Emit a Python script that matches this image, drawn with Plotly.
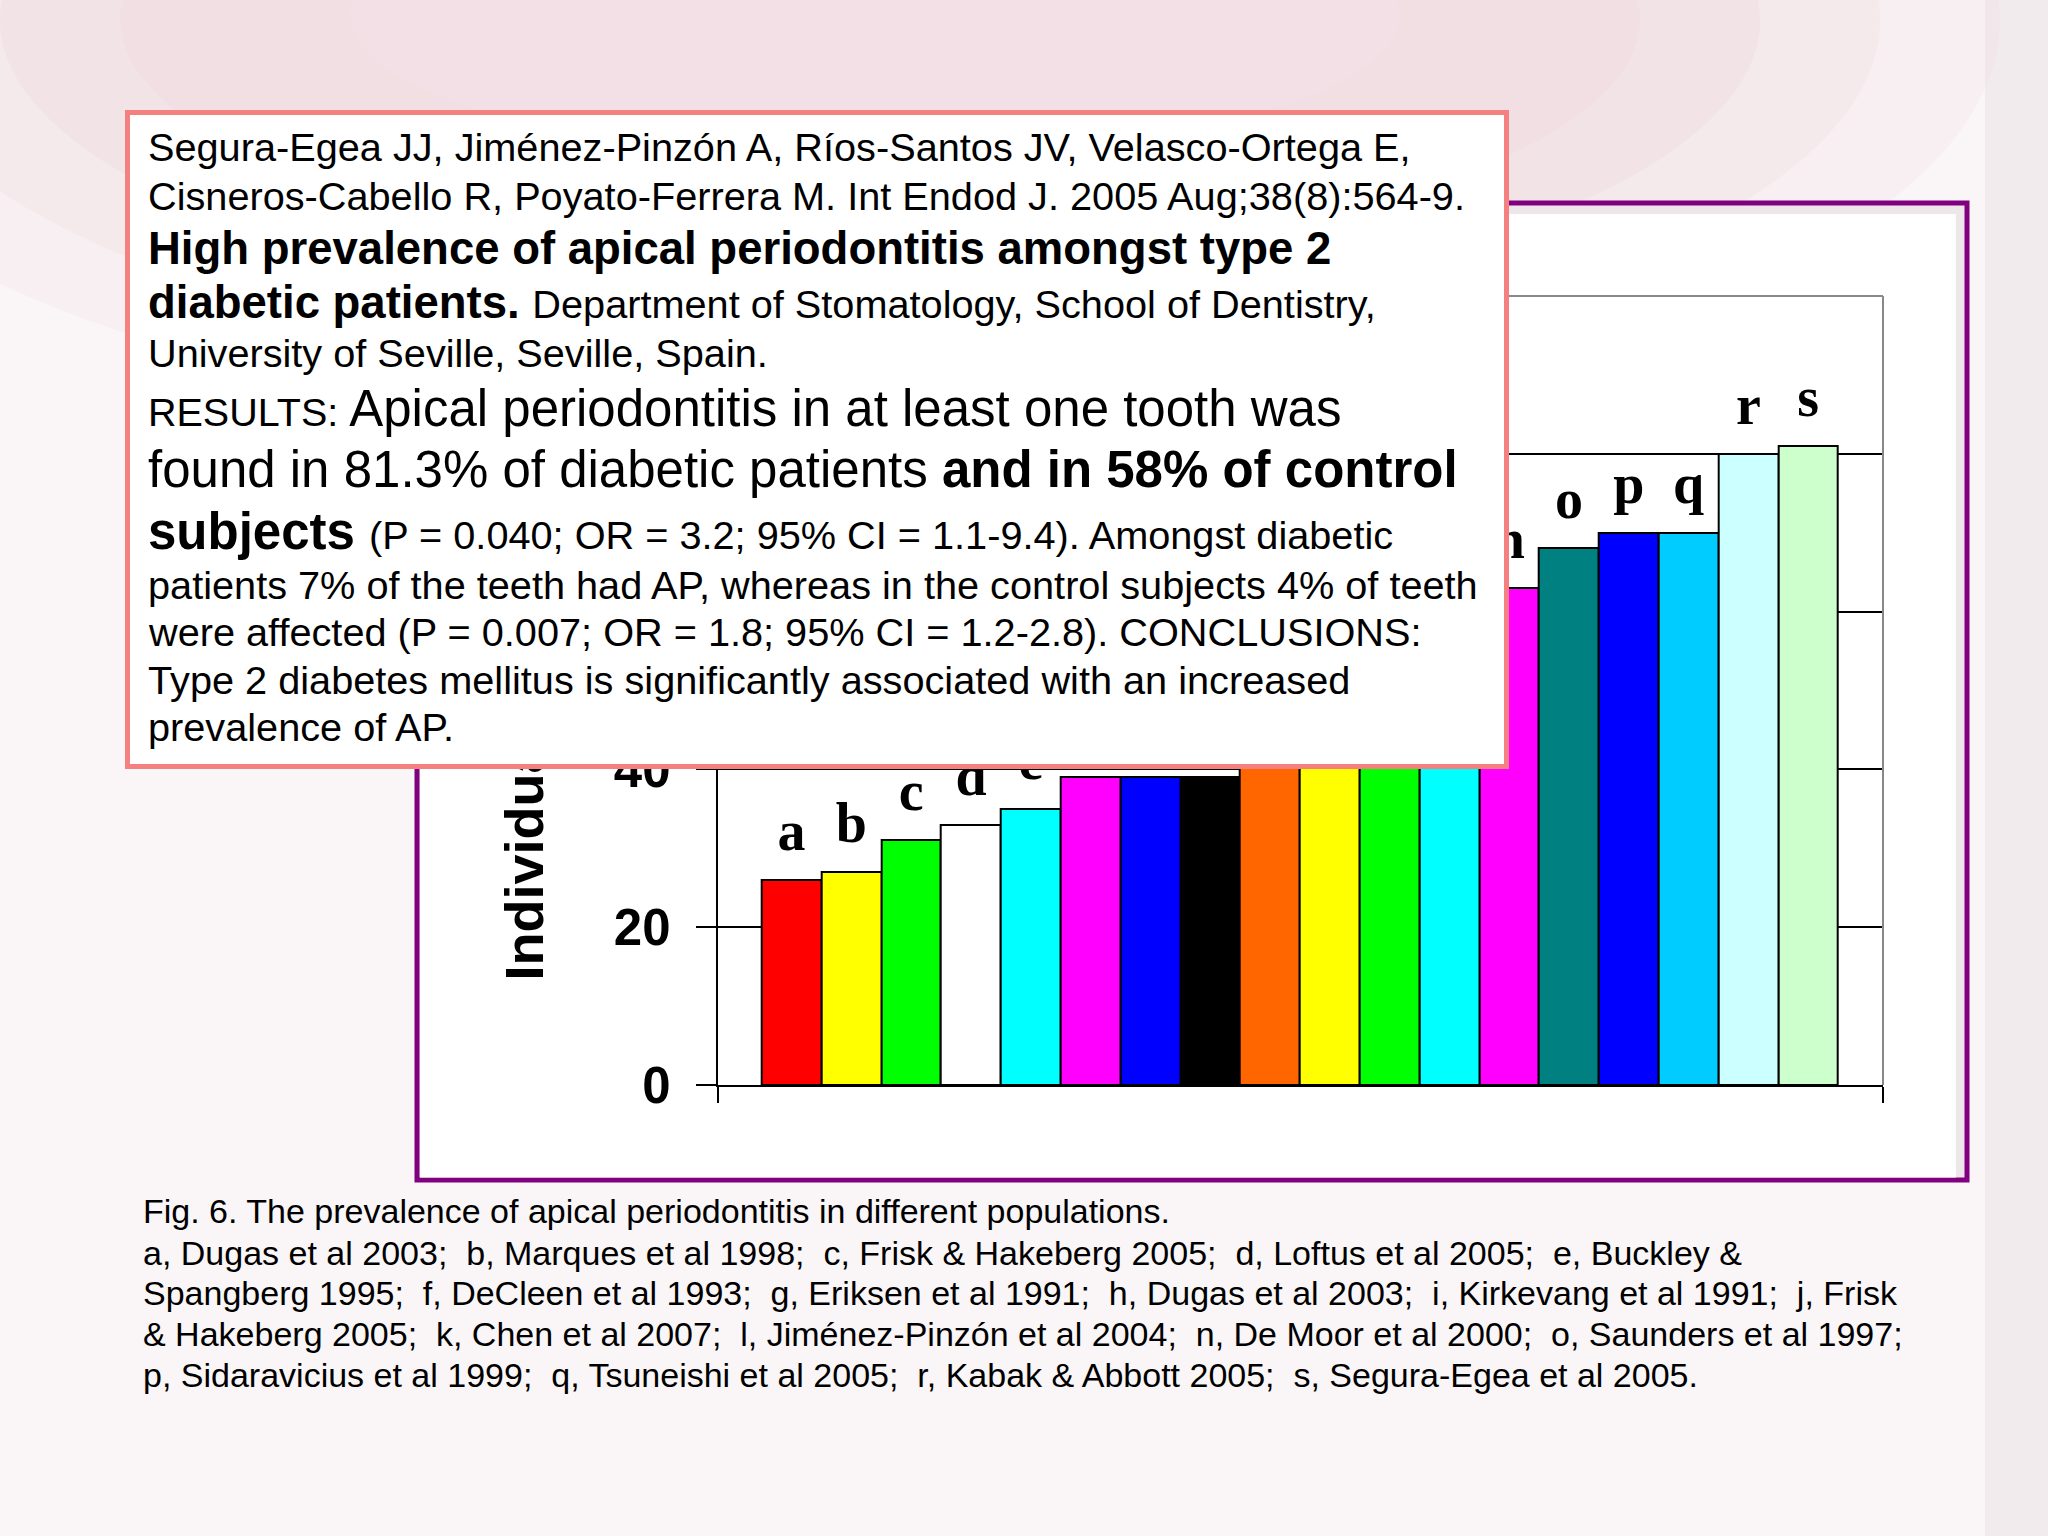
import plotly.graph_objects as go

# ---------------- data ----------------
letters = ["a", "b", "c", "d", "e", "f", "g", "h", "i", "j", "k", "l", "n", "o", "p", "q", "r", "s"]
values = [26, 27, 31, 33, 35, 39, 39, 39, 44, 48, 54, 61, 63, 68, 70, 70, 80, 81]
colors = ["#FF0000", "#FFFF00", "#00FF00", "#FFFFFF", "#00FFFF", "#FF00FF", "#0000FF", "#000000",
          "#FF6600", "#FFFF00", "#00FF00", "#00FFFF", "#FF00FF", "#008080", "#0000FF", "#00CCFF",
          "#CCFFFF", "#CCFFCC"]
y_ticks = [0, 20, 40, 60, 80, 100]
y_title = "Individuals with AP (%)"

SM = 39.7   # small text size in the abstract box
box_lines = [
    ("Segura-Egea JJ, Jiménez-Pinzón A, Ríos-Santos JV, Velasco-Ortega E,", SM, 147.3),
    ("Cisneros-Cabello R, Poyato-Ferrera M. Int Endod J. 2005 Aug;38(8):564-9.", SM, 195.6),
    ("<b>High prevalence of apical periodontitis amongst type 2</b>", 45.5, 248.5),
    ("<b>diabetic patients.</b> <span style='font-size:%.1fpx'>Department of Stomatology, School of Dentistry,</span>" % SM, 45.5, 302.5),
    ("University of Seville, Seville, Spain.", SM, 352.5),
    ("<span style='font-size:39.5px'>RESULTS: </span>Apical periodontitis in at least one tooth was", 51, 408.5),
    ("found in 81.3% of diabetic patients <b>and in 58% of control</b>", 51, 469.5),
    ("<b>subjects</b> <span style='font-size:%.1fpx'>(P = 0.040; OR = 3.2; 95%% CI = 1.1-9.4). Amongst diabetic</span>" % SM, 51, 531.5),
    ("patients 7% of the teeth had AP, whereas in the control subjects 4% of teeth", SM, 584.6),
    ("were affected (P = 0.007; OR = 1.8; 95% CI = 1.2-2.8). CONCLUSIONS:", SM, 632.0),
    ("Type 2 diabetes mellitus is significantly associated with an increased", SM, 680.0),
    ("prevalence of AP.", SM, 727.0),
]

caption_lines = [
    "Fig. 6. The prevalence of apical periodontitis in different populations.",
    "a, Dugas et al 2003;  b, Marques et al 1998;  c, Frisk &amp; Hakeberg 2005;  d, Loftus et al 2005;  e, Buckley &amp;",
    "Spangberg 1995;  f, DeCleen et al 1993;  g, Eriksen et al 1991;  h, Dugas et al 2003;  i, Kirkevang et al 1991;  j, Frisk",
    "&amp; Hakeberg 2005;  k, Chen et al 2007;  l, Jiménez-Pinzón et al 2004;  n, De Moor et al 2000;  o, Saunders et al 1997;",
    "p, Sidaravicius et al 1999;  q, Tsuneishi et al 2005;  r, Kabak &amp; Abbott 2005;  s, Segura-Egea et al 2005.",
]
caption_y = [1210.8, 1252.6, 1293.1, 1333.6, 1375.3]

# ---------------- geometry helpers ----------------
W, H = 2048, 1536
def px(x):
    return x / W
def py(y):
    return 1 - y / H

SANS = "Liberation Sans"
SERIF = "Liberation Serif"
idx = list(range(len(letters)))

fig = go.Figure()
fig.add_trace(go.Bar(
    x=idx, y=values, width=1,
    marker=dict(color=colors, line=dict(color="black", width=2)),
    hoverinfo="skip",
))
fig.add_trace(go.Scatter(
    x=idx, y=values, mode="markers+text", text=letters,
    textposition="top center",
    marker=dict(size=24, color="rgba(0,0,0,0)"),
    textfont=dict(family=SERIF, size=56, color="black", weight="bold"),
    hoverinfo="skip", cliponaxis=False,
))

shapes = []
# soft pink background haze (stacked translucent ellipses)
haze = [
    (-250, 2000, 440, -400, "#EBCBD5", 0.16),
    (-120, 1880, 380, -340, "#EBCBD5", 0.18),
    (0, 1760, 320, -280, "#EBCBD5", 0.2),
    (120, 1640, 260, -220, "#EFD3DC", 0.22),
    (350, 1400, 160, -130, "#F6E6EC", 0.3),
]
for x0, x1, y0, y1, c, op in haze:
    shapes.append(dict(type="circle", xref="paper", yref="paper", layer="below",
                       x0=px(x0), x1=px(x1), y0=py(y0), y1=py(y1),
                       fillcolor=c, line=dict(width=0), opacity=op))
shapes.append(dict(type="rect", xref="paper", yref="paper", layer="below",
                   x0=px(1985), x1=px(2048), y0=0, y1=1,
                   fillcolor="#E9DDE2", line=dict(width=0), opacity=0.45))
# purple chart frame
shapes.append(dict(type="rect", xref="paper", yref="paper", layer="below",
                   x0=px(417), x1=px(1967), y0=py(1180), y1=py(203),
                   fillcolor="#EEE7EA", line=dict(color="#800080", width=5)))
shapes.append(dict(type="rect", xref="paper", yref="paper", layer="below",
                   x0=px(420), x1=px(1956), y0=py(1177.5), y1=py(214),
                   fillcolor="white", line=dict(width=0)))
# grey plot-area border (top and right)
shapes.append(dict(type="line", xref="paper", yref="paper", layer="above",
                   x0=px(717.7), x1=px(1883), y0=py(296), y1=py(296),
                   line=dict(color="#888888", width=2)))
shapes.append(dict(type="line", xref="paper", yref="paper", layer="above",
                   x0=px(1883), x1=px(1883), y0=py(296), y1=py(1085),
                   line=dict(color="#888888", width=2)))

annotations = []
# y-axis title (drawn first so the abstract box covers it)
annotations.append(dict(text=y_title, textangle=-90, xref="paper", yref="paper",
                        x=px(523), y=py(981), xanchor="center", yanchor="bottom",
                        showarrow=False, borderpad=0, borderwidth=0,
                        font=dict(family=SANS, size=54, color="black", weight="bold")))
# abstract box
annotations.append(dict(text=" ", xref="paper", yref="paper",
                        x=px(817), y=py(439.5), xanchor="center", yanchor="middle",
                        width=1374, height=649, showarrow=False,
                        bgcolor="white", bordercolor="#F58080", borderwidth=5, borderpad=0,
                        font=dict(family=SANS, size=10)))
for txt, size, yc in box_lines:
    annotations.append(dict(text=txt, xref="paper", yref="paper",
                            x=px(148), y=py(yc), xanchor="left", yanchor="middle",
                            align="left", showarrow=False, borderpad=0, borderwidth=0,
                            font=dict(family=SANS, size=size, color="black")))
for txt, yc in zip(caption_lines, caption_y):
    annotations.append(dict(text=txt, xref="paper", yref="paper",
                            x=px(143), y=py(yc), xanchor="left", yanchor="middle",
                            align="left", showarrow=False, borderpad=0, borderwidth=0,
                            font=dict(family=SANS, size=34, color="black")))

x_lo, x_hi = -1.236, 18.25
fig.update_layout(
    width=W, height=H, autosize=False,
    margin=dict(l=0, r=0, t=0, b=0, pad=0, autoexpand=False),
    paper_bgcolor="#FAF6F7", plot_bgcolor="white",
    showlegend=False, bargap=0,
    shapes=shapes, annotations=annotations,
    xaxis=dict(domain=[px(717.7), px(1883)], range=[x_lo, x_hi], automargin=False,
               tickmode="array", tickvals=[x_lo, x_hi], ticktext=["", ""],
               ticks="outside", ticklen=16, tickwidth=2, tickcolor="black",
               showgrid=False, zeroline=False, showline=True,
               linecolor="black", linewidth=2, fixedrange=True),
    yaxis=dict(domain=[py(1085), py(296)], range=[0, 100], automargin=False,
               tickmode="array", tickvals=y_ticks,
               ticks="outside", ticklen=20, tickwidth=2, tickcolor="black",
               ticklabelstandoff=15,
               tickfont=dict(family=SANS, size=51, color="black", weight="bold"),
               showgrid=True, gridcolor="black", gridwidth=2,
               zeroline=False, showline=True, linecolor="black", linewidth=2,
               fixedrange=True),
)

fig.write_html("out.html", config={"displayModeBar": False},
               post_script="document.body.style.margin='0';document.body.style.overflow='hidden';")
